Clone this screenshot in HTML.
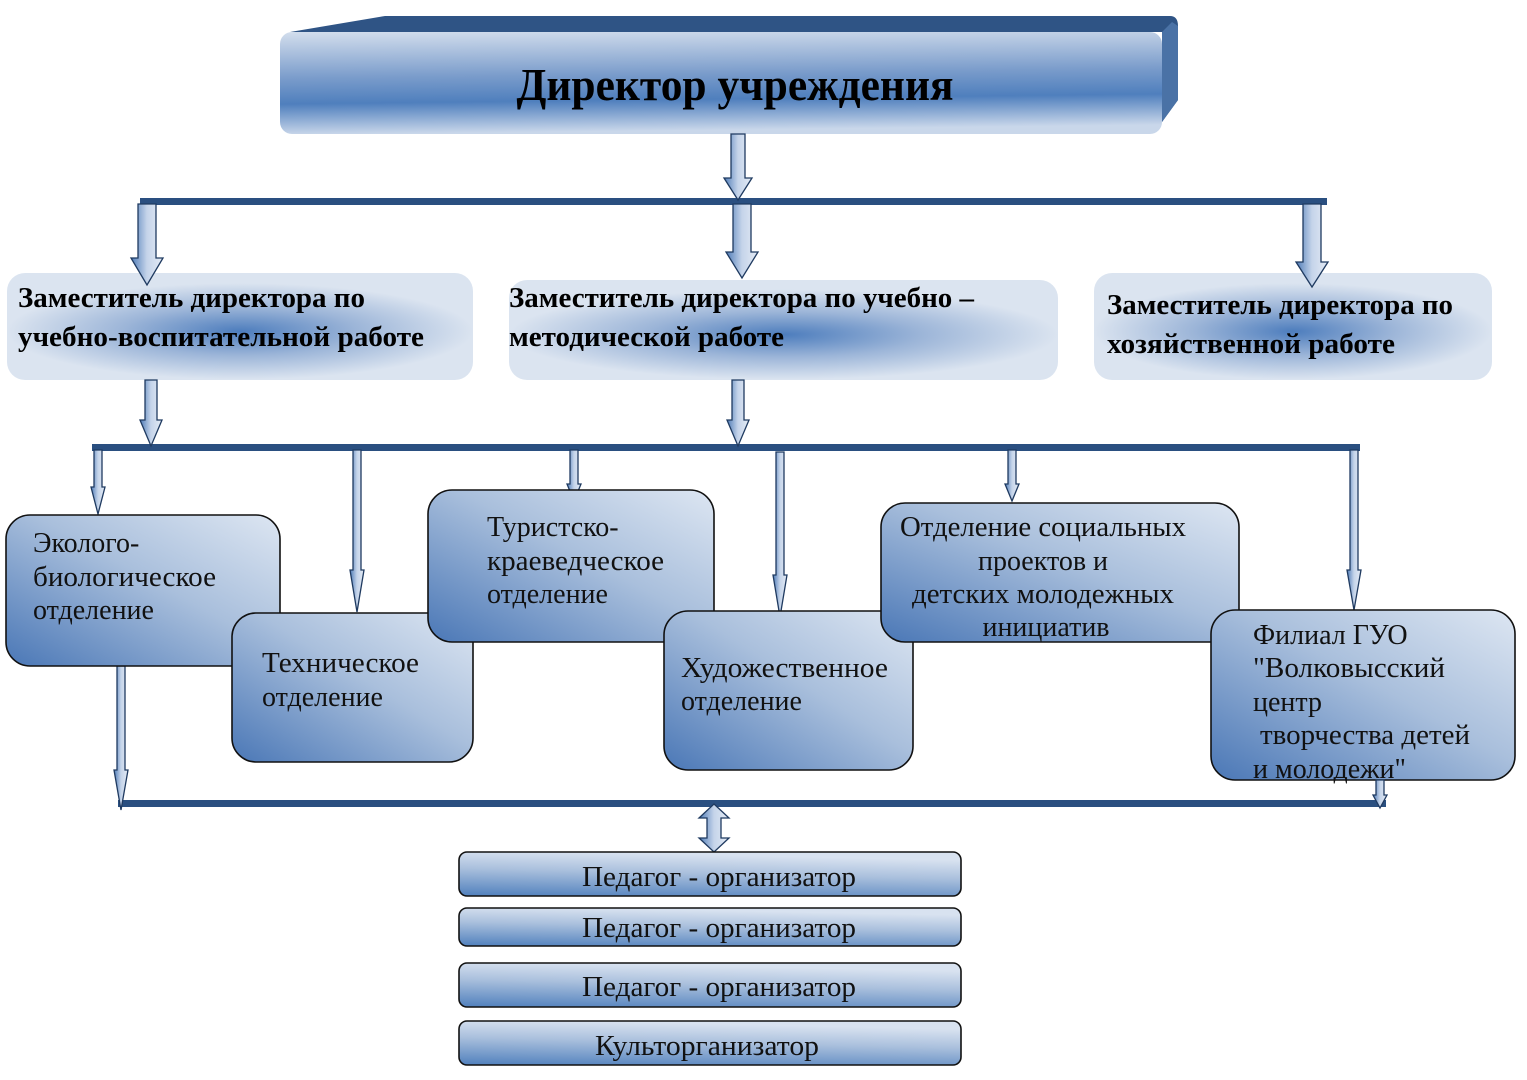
<!DOCTYPE html>
<html><head><meta charset="utf-8"><style>html,body{margin:0;padding:0;background:#fff}svg{display:block}</style></head>
<body>
<svg width="1527" height="1080" viewBox="0 0 1527 1080" xmlns="http://www.w3.org/2000/svg" font-family="'Liberation Serif', serif">
<defs>
<linearGradient id="box" x1="0" y1="1" x2="1" y2="0">
<stop offset="0" stop-color="#4a77b6"/><stop offset="0.55" stop-color="#a9bfdc"/><stop offset="1" stop-color="#dde6f2"/>
</linearGradient>
<linearGradient id="bar" x1="0" y1="1" x2="0.25" y2="0">
<stop offset="0" stop-color="#5080bd"/><stop offset="0.6" stop-color="#aac0dd"/><stop offset="1" stop-color="#d8e2f0"/>
</linearGradient>
<linearGradient id="dir" x1="0" y1="0" x2="0.1" y2="1">
<stop offset="0" stop-color="#d3deed"/><stop offset="0.45" stop-color="#7a9ccb"/><stop offset="0.7" stop-color="#4f7fbd"/><stop offset="1" stop-color="#c9d7ea"/>
</linearGradient>
<radialGradient id="dep" cx="0.5" cy="0.55" r="0.5" gradientTransform="translate(0,0.05) scale(1,0.9)">
<stop offset="0" stop-color="#4d7dbd"/><stop offset="0.5" stop-color="#9cb5d8"/><stop offset="1" stop-color="#dbe4f0"/>
</radialGradient>
<linearGradient id="arr" x1="0" y1="0" x2="1" y2="0">
<stop offset="0" stop-color="#4e7bb7"/><stop offset="0.5" stop-color="#c5d4ea"/><stop offset="1" stop-color="#e4ebf5"/>
</linearGradient>
</defs>

<path d="M290,32 L385,16 L1170,16 Q1178,16 1178,26 L1178,100 L1162,122 L1162,32 Z" fill="#2f5485"/>
<path d="M1162,32 L1172,22 L1178,26 L1178,100 L1162,122 Z" fill="#4a72a6"/>
<rect x="280" y="32" width="882" height="102" rx="12" fill="url(#dir)"/>
<text x="735" y="100" font-size="46" font-weight="bold" text-anchor="middle" textLength="437" lengthAdjust="spacingAndGlyphs" fill="#000">Директор учреждения</text>

<rect x="140" y="198" width="1187" height="7" fill="#2a4f80"/>
<rect x="92" y="444" width="1268" height="7" fill="#2a4f80"/>
<rect x="118" y="800" width="1268" height="7" fill="#2a4f80"/>

<rect x="7" y="273" width="466" height="107" rx="18" fill="url(#dep)"/>
<rect x="509" y="280" width="549" height="100" rx="18" fill="url(#dep)"/>
<rect x="1094" y="273" width="398" height="107" rx="18" fill="url(#dep)"/>
<g font-size="28" font-weight="bold" fill="#000" lengthAdjust="spacingAndGlyphs">
<text x="18" y="307" textLength="347" lengthAdjust="spacingAndGlyphs">Заместитель директора по</text>
<text x="18" y="346" textLength="406" lengthAdjust="spacingAndGlyphs">учебно-воспитательной работе</text>
<text x="509" y="307" textLength="465" lengthAdjust="spacingAndGlyphs">Заместитель директора по учебно –</text>
<text x="509" y="346" textLength="275" lengthAdjust="spacingAndGlyphs">методической работе</text>
<text x="1107" y="314" textLength="346" lengthAdjust="spacingAndGlyphs">Заместитель директора по</text>
<text x="1107" y="353" textLength="288" lengthAdjust="spacingAndGlyphs">хозяйственной работе</text>
</g>

<g fill="url(#arr)" stroke="#1f3a60" stroke-width="1.3">
<path d="M731,134 L745,134 L745,178 L752,178 L738,200 L724,178 L731,178 Z"/>
<path d="M138,204 L156,204 L156,258 L163,258 L147,285 L131,258 L138,258 Z"/>
<path d="M733,204 L751,204 L751,252 L758,252 L742,278 L726,252 L733,252 Z"/>
<path d="M1303,204 L1321,204 L1321,262 L1328,262 L1312,287 L1296,262 L1303,262 Z"/>
<path d="M145,380 L157,380 L157,420 L162,420 L151,446 L140,420 L145,420 Z"/>
<path d="M732,380 L744,380 L744,420 L749,420 L738,446 L727,420 L732,420 Z"/>
<path d="M94,450 L102,450 L102,487 L105,487 L98,514 L91,487 L94,487 Z"/>
<path d="M353,450 L361,450 L361,570 L364,570 L357,612 L350,570 L353,570 Z"/>
<path d="M570,450 L578,450 L578,484 L581,484 L574,501 L567,484 L570,484 Z"/>
<path d="M776,452 L784,452 L784,575 L787,575 L780,617 L773,575 L776,575 Z"/>
<path d="M1008,450 L1016,450 L1016,484 L1019,484 L1012,501 L1005,484 L1008,484 Z"/>
<path d="M1350,450 L1358,450 L1358,570 L1361,570 L1354,610 L1347,570 L1350,570 Z"/>
<path d="M117,666 L125,666 L125,770 L128,770 L121,810 L114,770 L117,770 Z"/>
<path d="M714,804 L729,818 L721,818 L721,838 L729,838 L714,852 L699,838 L707,838 L707,818 L699,818 Z"/>
</g>

<g stroke="#111" stroke-width="1.6" fill="url(#box)">
<rect x="6" y="515" width="274" height="151" rx="24"/>
<rect x="232" y="613" width="241" height="149" rx="24"/>
<rect x="428" y="490" width="286" height="152" rx="24"/>
<rect x="664" y="611" width="249" height="159" rx="24"/>
<rect x="881" y="503" width="358" height="139" rx="24"/>
<rect x="1211" y="610" width="304" height="170" rx="24"/>
</g>
<g font-size="28" fill="#111">
<text x="33" y="552">Эколого-</text>
<text x="33" y="586" textLength="183" lengthAdjust="spacingAndGlyphs">биологическое</text>
<text x="33" y="619">отделение</text>
<text x="262" y="672" textLength="157" lengthAdjust="spacingAndGlyphs">Техническое</text>
<text x="262" y="706">отделение</text>
<text x="487" y="536">Туристско-</text>
<text x="487" y="570" textLength="177" lengthAdjust="spacingAndGlyphs">краеведческое</text>
<text x="487" y="603">отделение</text>
<text x="681" y="677" textLength="207" lengthAdjust="spacingAndGlyphs">Художественное</text>
<text x="681" y="710">отделение</text>
<text x="1043" y="536" text-anchor="middle" textLength="286" lengthAdjust="spacingAndGlyphs">Отделение социальных</text>
<text x="1043" y="570" text-anchor="middle">проектов и</text>
<text x="1043" y="603" text-anchor="middle" textLength="262" lengthAdjust="spacingAndGlyphs">детских молодежных</text>
<text x="1046" y="636" text-anchor="middle">инициатив</text>
<text x="1253" y="644">Филиал ГУО</text>
<text x="1253" y="677" textLength="192" lengthAdjust="spacingAndGlyphs">"Волковысский</text>
<text x="1253" y="711">центр</text>
<text x="1260" y="744" textLength="210" lengthAdjust="spacingAndGlyphs">творчества детей</text>
<text x="1253" y="778">и молодежи"</text>
</g>
<path d="M1376,780 L1384,780 L1384,795 L1387,795 L1380,808 L1373,795 L1376,795 Z" fill="url(#arr)" stroke="#1f3a60" stroke-width="1.3"/>

<g stroke="#111" stroke-width="1.6" fill="url(#bar)">
<rect x="459" y="852" width="502" height="44" rx="8"/>
<rect x="459" y="908" width="502" height="38" rx="8"/>
<rect x="459" y="963" width="502" height="44" rx="8"/>
<rect x="459" y="1021" width="502" height="44" rx="8"/>
</g>
<g font-size="29" fill="#111" text-anchor="middle">
<text x="719" y="886" textLength="274" lengthAdjust="spacingAndGlyphs">Педагог - организатор</text>
<text x="719" y="937" textLength="274" lengthAdjust="spacingAndGlyphs">Педагог - организатор</text>
<text x="719" y="996" textLength="274" lengthAdjust="spacingAndGlyphs">Педагог - организатор</text>
<text x="707" y="1055" textLength="224" lengthAdjust="spacingAndGlyphs">Культорганизатор</text>
</g>
</svg>
</body></html>
